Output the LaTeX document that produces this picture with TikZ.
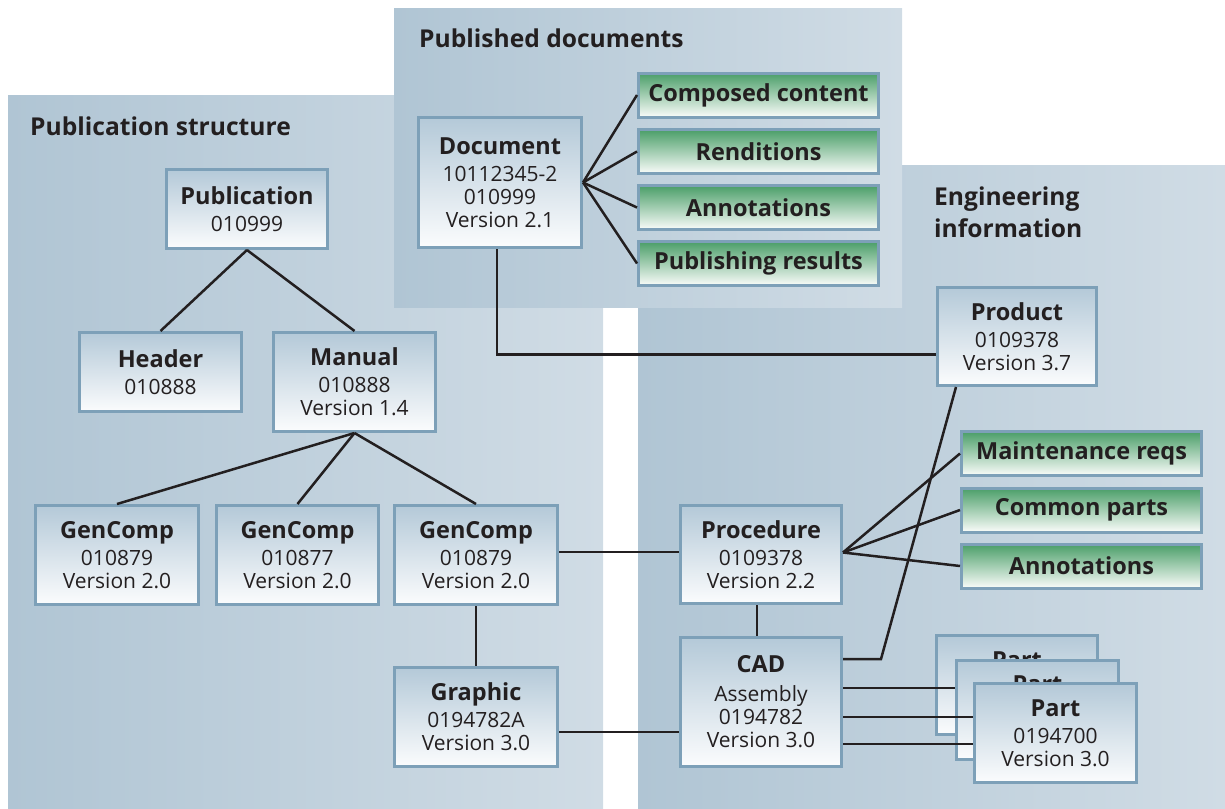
\documentclass[tikz,border=0pt]{standalone}
\usepackage{fontspec}
\setmainfont{Open Sans}
\usetikzlibrary{calc}

\definecolor{ink}{RGB}{35,31,32}
\definecolor{panelL}{RGB}{176,197,212}
\definecolor{panelR}{RGB}{208,220,229}
\definecolor{edge}{RGB}{125,160,184}
\definecolor{boxtop}{RGB}{180,201,216}
\definecolor{boxbot}{RGB}{251,252,253}
\definecolor{greentop}{RGB}{74,158,104}
\definecolor{greenbot}{RGB}{250,252,250}

\newcommand\titlefnt{\fontsize{23.5}{27}\selectfont\bfseries}
\newcommand\subfnt{\fontsize{21}{23}\selectfont}
\newcommand\secfnt{\fontsize{24.6}{32}\selectfont\bfseries}

\begin{document}
\begin{tikzpicture}[x=1pt,y=-1pt,
  panel/.style={left color=panelL,right color=panelR,draw=none},
  sectitle/.style={font=\secfnt,text=ink,inner sep=0pt},
  obj/.style={draw=edge,line width=3pt,top color=boxtop,bottom color=boxbot,
    minimum width=161pt,minimum height=99pt,inner sep=0pt,align=center,
    font=\subfnt,text=ink},
  tag/.style={draw=edge,line width=3pt,top color=greentop,bottom color=greenbot,
    minimum width=240pt,minimum height=44pt,inner sep=0pt,
    font=\titlefnt,text=ink},
  link/.style={draw=ink,line width=2.5pt}]

\useasboundingbox (0,0) rectangle (1225,808);

% background panels
\fill[panel] (8,95) rectangle (603,808);
\fill[panel] (638,165) rectangle (1225,808);
\fill[panel] (394,9) rectangle (902,307);

% panel headings
\node[sectitle,anchor=base west] (secpub) at (30,135) {Publication structure};
\node[sectitle,anchor=base west] (secdoc) at (419,48) {Published documents};
\node[sectitle,anchor=base west] (seceng1) at (934,205) {Engineering};
\node[sectitle,anchor=base west] (seceng2) at (934,237) {information};

% publication structure
\node[obj,minimum height=79pt] (publication) at (247,209) {{\titlefnt Publication}\\[4pt]010999};
\node[obj,minimum width=162pt,minimum height=79pt] (header) at (160.5,372) {{\titlefnt Header}\\[4pt]010888};
\node[obj,minimum width=162pt] (manual) at (354.5,382) {{\titlefnt Manual}\\[4pt]010888\\Version 1.4};
\node[obj,minimum width=163pt] (gc1) at (117,555) {{\titlefnt GenComp}\\[4pt]010879\\Version 2.0};
\node[obj,minimum width=162pt] (gc2) at (297.5,555) {{\titlefnt GenComp}\\[4pt]010877\\Version 2.0};
\node[obj,minimum width=163pt] (gc3) at (476,555) {{\titlefnt GenComp}\\[4pt]010879\\Version 2.0};
\node[obj,minimum width=163pt] (graphic) at (476,717) {{\titlefnt Graphic}\\[4pt]0194782A\\Version 3.0};

% published documents
\node[obj,minimum width=163pt,minimum height=130pt] (doc) at (500,182.5) {{\titlefnt Document}\\[4pt]10112345-2\\010999\\Version 2.1};
\node[tag] (composed) at (758.5,95) {Composed content};
\node[tag] (renditions) at (758.5,151.5) {Renditions};
\node[tag] (pubnotes) at (758.5,207.5) {Annotations};
\node[tag] (results) at (758.5,263.5) {Publishing results};

% engineering information
\node[obj,minimum width=159pt,minimum height=98pt] (product) at (1017,336.5) {{\titlefnt Product}\\[4pt]0109378\\Version 3.7};
\node[obj,minimum height=98pt] (proc) at (761,554.5) {{\titlefnt Procedure}\\[4pt]0109378\\Version 2.2};
\node[obj,minimum height=129pt] (cad) at (761,702) {{\titlefnt CAD}\\[6pt]Assembly\\0194782\\Version 3.0};
\node[tag] (maint) at (1081.5,453.5) {Maintenance reqs};
\node[tag] (common) at (1081.5,510) {Common parts};
\node[tag] (engnotes) at (1081.5,566) {Annotations};

% connectors
\draw[link] (publication.south) -- (header.north);
\draw[link] (publication.south) -- (manual.north);
\draw[link] (manual.south) -- (gc1.north);
\draw[link] (manual.south) -- (gc2.north);
\draw[link] (manual.south) -- (gc3.north);
\draw[link] (gc3.south) -- (graphic.north);
\draw[link] ([yshift=3pt]gc3.east) -- ([yshift=3pt]gc3.east -| proc.west);
\draw[link] ([yshift=-15pt]graphic.east) -- ([yshift=-15pt]graphic.east -| cad.west);
\draw[link] ([xshift=-4pt]proc.south) -- ([xshift=-4pt]cad.north);
\foreach \t in {composed,renditions,pubnotes,results}
  \draw[link] (doc.east) -- (\t.west);
\foreach \t in {maint,common,engnotes}
  \draw[link] ([yshift=2pt]proc.east) -- (\t.west);
\coordinate (bend) at (881,659);
\draw[link] ([xshift=-3pt]doc.south) |- ([yshift=-18pt]product.west);
\draw[link] (cad.east |- bend) -- (bend) -- ($(product.south west)+(20,0)$);

% stacked parts, each card covering the one behind it
\node[obj] (part1) at (1017,685) {{\titlefnt Part}\\[4pt]\phantom{0194700}\\\phantom{Version 3.0}};
\draw[link] ([yshift=14pt]cad.east) -- ([yshift=14pt]cad.east -| part1.east);
\node[obj,minimum width=162pt] (part2) at (1037.5,709.5) {{\titlefnt Part}\\[4pt]\phantom{0194700}\\\phantom{Version 3.0}};
\draw[link] ([yshift=-15pt]cad.east) -- ([yshift=-15pt]cad.east -| part2.east);
\draw[link] ([yshift=-42pt]cad.east) -- ([yshift=-42pt]cad.east -| part2.east);
\node[obj,minimum width=162pt] (part3) at (1055.5,733) {{\titlefnt Part}\\[4pt]0194700\\Version 3.0};
\end{tikzpicture}
\end{document}
